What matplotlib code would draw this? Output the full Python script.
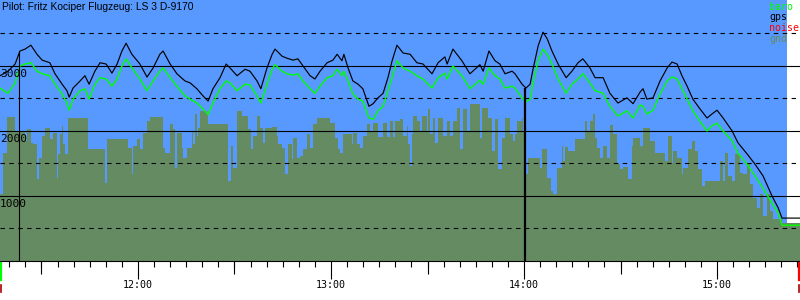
import matplotlib
matplotlib.use("Agg")
import matplotlib.pyplot as plt
from matplotlib.transforms import blended_transform_factory

SKY = "#5799ff"
GND = "#658b63"
BARO = "#00ff00"

# temps en minutes depuis 11:00
t_start = 17.1
t_end = 265.8
t_sky_end = 261.8
t_marks = [23.0, 180.2]

t_line = [17.1, 19.6, 21.8, 23.3, 24.9, 26.7, 28.6, 30.2, 32.6, 34.2, 36.4, 37.9, 38.6, 39.8,
          42.0, 43.5, 44.8, 46.6, 48.2, 50.1, 51.9, 53.5, 55.0, 56.3, 58.1, 60.6, 62.8, 64.7,
          66.8, 67.8, 70.0, 72.1, 74.6, 76.2, 78.3, 80.2, 81.8, 83.3, 85.5, 87.4, 88.6, 90.8,
          93.3, 94.8, 97.0, 98.2, 100.1, 101.7, 102.6, 104.8, 106.3, 108.2, 109.7, 111.3, 113.5,
          115.0, 116.6, 118.8, 120.6, 121.9, 123.4, 124.0, 125.3, 126.8, 128.4, 129.9, 131.8,
          133.1, 134.6, 136.2, 137.7, 139.0, 140.5, 142.4, 144.6, 146.7, 148.6, 151.4, 153.3,
          155.4, 156.1, 157.9, 160.7, 163.2, 166.3, 167.3, 169.1, 171.0, 172.5, 174.1, 176.3,
          177.2, 179.4, 180.6, 181.9, 182.8, 184.4, 185.9, 187.2, 188.7, 190.6, 193.1, 194.9,
          196.8, 198.3, 200.5, 202.1, 204.6, 206.7, 209.2, 212.0, 213.9, 216.1, 217.0, 218.2,
          220.1, 222.3, 224.5, 226.0, 227.6, 229.1, 230.7, 232.5, 234.7, 236.9, 238.4, 240.0,
          241.9, 244.7, 246.5, 249.3, 251.8, 254.3, 257.1, 259.0, 260.2, 265.8]

gps = [2850, 2920, 3030, 3230, 3260, 3320, 3180, 3090, 3050, 2880, 2720, 2620, 2520, 2660,
       2770, 2850, 2720, 2920, 3050, 3030, 2890, 3030, 3230, 3350, 3180, 3030, 2830, 2970,
       3180, 3230, 3030, 2880, 2770, 2740, 2650, 2540, 2460, 2650, 2820, 3030, 2970, 2850,
       2950, 2920, 2770, 2650, 2970, 3180, 3260, 3150, 3120, 3090, 3110, 3000, 2850,
       2800, 2920, 3050, 3090, 3180, 3080, 3180, 2970, 2770, 2720, 2650, 2380,
       2420, 2510, 2580, 2820, 3080, 3320, 3200, 3180, 3050, 3030, 2880, 3050,
       3140, 3030, 3260, 3080, 2880, 3020, 2920, 3230, 3080, 3030, 2880, 2920,
       2880, 2720, 2660, 2720, 2950, 3310, 3520, 3420, 3230, 3030, 2820, 2920,
       3050, 3110, 2970, 2820, 2820, 2580, 2430, 2510, 2420, 2600, 2650, 2490,
       2510, 2770, 2970, 3060, 3030, 2850, 2690, 2490, 2340, 2200, 2260, 2320,
       2200, 2000, 1820, 1650, 1490, 1310, 1000, 820, 660, 660]

baro = [2660, 2580, 2740, 3000, 3030, 3050, 2920, 2880, 2850, 2720, 2570, 2430, 2320, 2490,
        2620, 2650, 2490, 2720, 2820, 2800, 2690, 2800, 3000, 3110, 2970, 2800, 2620, 2770,
        2920, 2970, 2820, 2690, 2540, 2490, 2430, 2340, 2250, 2430, 2650, 2770, 2740, 2620,
        2720, 2710, 2540, 2430, 2720, 2950, 3020, 2920, 2880, 2860, 2880, 2770, 2650,
        2580, 2690, 2820, 2850, 2950, 2850, 2920, 2770, 2570, 2490, 2460, 2200,
        2180, 2310, 2380, 2620, 2820, 3080, 2970, 2920, 2850, 2800, 2660, 2820,
        2890, 2800, 3000, 2850, 2650, 2780, 2720, 2970, 2850, 2800, 2660, 2690,
        2660, 2510, 2450, 2490, 2740, 3080, 3260, 3180, 3030, 2800, 2580, 2720,
        2800, 2880, 2740, 2620, 2580, 2380, 2230, 2310, 2200, 2400, 2380, 2260,
        2320, 2570, 2770, 2830, 2800, 2650, 2490, 2310, 2150, 2000, 2080, 2120,
        2000, 1850, 1660, 1490, 1310, 1120, 890, 740, 550, 550]

gnd_time = [17.1, 18.0, 19.3, 21.8, 24.9, 25.5, 26.7, 27.4, 28.6, 29.2, 30.2, 31.1, 32.6, 33.6,
            34.8, 35.1, 35.8, 36.4, 36.7, 37.3, 38.2, 44.5, 49.7, 50.4, 56.9, 58.1, 58.4, 59.7,
            60.6, 61.6, 62.8, 63.7, 67.8, 68.4, 70.0, 70.9, 71.5, 72.1, 73.7, 74.0, 75.2, 76.8,
            77.1, 77.7, 78.3, 78.7, 79.3, 81.5, 81.8, 88.0, 88.9, 89.5, 90.8, 92.3, 94.2, 95.1,
            95.8, 97.0, 97.9, 98.9, 99.5, 101.7, 103.2, 103.5, 104.8, 105.7, 106.6, 107.9, 108.2,
            109.4, 110.4, 111.3, 112.5, 113.5, 114.4, 115.7, 119.7, 121.2, 122.2, 122.8, 123.7,
            126.5, 126.8, 128.1, 129.0, 130.0, 131.2, 132.1, 133.1, 134.6, 136.2, 137.4, 138.3,
            139.3, 139.9, 141.5, 142.4, 143.6, 144.0, 144.6, 145.2, 145.5, 146.7, 147.7, 148.3,
            149.8, 150.2, 150.8, 151.7, 152.3, 153.3, 154.8, 156.1, 157.0, 157.9, 159.2, 160.1,
            161.0, 162.3, 163.2, 166.3, 166.9, 168.8, 170.1, 171.0, 171.9, 173.2, 174.1, 175.6,
            176.6, 177.2, 177.8, 179.4, 179.7, 180.3, 181.2, 185.0, 185.6, 187.2, 188.4, 189.0,
            190.3, 191.8, 192.1, 192.8, 193.7, 195.9, 199.0, 199.6, 200.5, 201.5, 202.1, 202.7,
            203.6, 204.6, 205.8, 206.7, 207.7, 208.9, 209.8, 210.8, 212.3, 213.6, 213.9, 216.1,
            217.0, 219.2, 220.7, 223.8, 224.8, 226.0, 226.3, 227.6, 229.1, 229.4, 231.0, 232.2,
            233.2, 234.1, 235.3, 236.3, 240.9, 241.9, 242.5, 243.4, 244.7, 245.6, 247.2, 248.1,
            249.3, 250.3, 251.2, 252.4, 253.4, 254.3, 255.5, 256.5, 257.4, 260.2, 265.8]

gnd_alt = [1030, 1660, 2220, 2000, 1850, 2030, 1820, 1800, 1260, 1580, 1920, 2050, 1880, 1970,
           1280, 1650, 1950, 2080, 1800, 1650, 2200, 1720, 1200, 1880, 1740, 1340, 1770, 1880,
           1720, 1970, 2150, 2220, 1740, 1660, 2110, 2030, 1430, 1970, 1740, 1580, 1740, 1980,
           1800, 2260, 1920, 2050, 2310, 2260, 2110, 1230, 1770, 1430, 2310, 2230, 2030, 1720,
           1920, 2230, 2050, 1820, 2050, 2060, 1920, 1800, 1740, 1340, 1800, 1570, 1890,
           1580, 1620, 1720, 1950, 1740, 2110, 2200, 2120, 1890, 1720, 1660, 1950,
           1800, 1970, 1800, 1740, 1920, 2110, 2000, 2120, 1910, 2120, 1910, 2150,
           1910, 2150, 2180, 1920, 2080, 1800, 1460, 1950, 2230, 2150, 2000, 2230,
           2000, 2340, 1950, 2200, 1820, 2200, 1920, 2150, 1920, 2150, 2350, 1720,
           2340, 2000, 2420, 1890, 2350, 2200, 1690, 2180, 1420, 1890, 2200, 1950,
           1850, 1950, 2150, 2200, 2000, 1340, 1580, 1430, 1720, 1280, 1080, 1030,
           1430, 1770, 1540, 1750, 1690, 1880, 2150, 2000, 2150, 2260, 1890, 1740,
           1580, 1770, 1580, 2090, 1950, 1490, 1420, 1450, 1260, 1770, 1890, 1770,
           2050, 1850, 1660, 1540, 1920, 1510, 1690, 1580, 1340, 1430, 1720, 1850,
           1690, 1420, 1150, 1230, 1540, 1230, 1660, 1310, 1230, 1650, 1350, 1340,
           1490, 1180, 970, 820, 1030, 690, 1030, 770, 650, 580, 580]

solid_levels = [1000, 2000, 3000]
dashed_levels = [500, 1500, 2500, 3500]
hour_ticks = [60, 120, 180, 240]
half_ticks = [30, 90, 150, 210]
legend_names = ["baro", "gps", "noise", "gnd"]
legend_colors = [BARO, "black", "#ff0000", GND]

fig = plt.figure(figsize=(8, 3), dpi=100)
ax = fig.add_axes([0, 0.13, 1, 0.87])
ax.set_facecolor("white")
ax.set_xlim(t_start, t_end)
ax.set_ylim(0, 4015)

ax.axvspan(t_start, t_sky_end, color=SKY, zorder=0, lw=0)
ax.fill_between(gnd_time, gnd_alt, 0, step="post", color=GND, lw=0, zorder=1)

for lv in solid_levels:
    ax.axhline(lv, color="black", lw=0.8, zorder=2)
    ax.text(t_start, lv - 40, str(lv), family="DejaVu Sans Mono", fontsize=8,
            va="top", ha="left", zorder=5)
for lv in dashed_levels:
    ax.axhline(lv, color="black", lw=0.8, ls=(0, (4, 4)), zorder=2)

ax.plot(t_line, baro, color=BARO, lw=1.0, zorder=3)
ax.plot(t_line, gps, color="black", lw=0.85, zorder=4)
for i, tm in enumerate(t_marks):
    top = gps[min(range(len(t_line)), key=lambda j: abs(t_line[j] - tm))]
    ax.vlines(tm, 0, top, color="black", lw=0.8 + i * 0.8, zorder=4)

for s in ["left", "right", "top"]:
    ax.spines[s].set_visible(False)
ax.spines["bottom"].set_linewidth(0.8)
ax.set_yticks([])

# longueurs des graduations en points (1 px = 0.72 pt)
ax.set_xticks(hour_ticks)
ax.set_xticklabels([f"{11 + t // 60}:{t % 60:02d}" for t in hour_ticks],
                   family="DejaVu Sans Mono", fontsize=7.2)
ax.set_xticks(list(range(20, 266, 5)), minor=True)
ax.tick_params(axis="x", which="major", length=13, width=0.8, pad=1)
ax.tick_params(axis="x", which="minor", length=4.3, width=0.8)
sec = ax.secondary_xaxis("bottom")
sec.set_xticks(half_ticks)
sec.set_xticklabels([])
sec.tick_params(length=9.4, width=0.8)
sec.spines["bottom"].set_visible(False)

# marques début / fin
tr = blended_transform_factory(ax.transData, fig.transFigure)
ax.plot([t_start + 0.3] * 2, [0.127, 0.067], color=BARO, lw=1.6, transform=tr, clip_on=False)
ax.plot([t_start + 0.3] * 2, [0.05, 0.027], color="#aa0000", lw=1.2, transform=tr, clip_on=False)
ax.plot([t_end - 0.3] * 2, [0.127, 0.067], color="#ff0000", lw=1.6, transform=tr, clip_on=False)
ax.plot([t_end - 0.3] * 2, [0.05, 0.027], color="#aa0000", lw=1.2, transform=tr, clip_on=False)

fig.text(0.003, 0.995, "Pilot: Fritz Kociper Flugzeug: LS 3 D-9170", family="Liberation Sans",
         fontsize=7.4, va="top", ha="left")
for i, (name, col) in enumerate(zip(legend_names, legend_colors)):
    fig.text(769 / 800, 1 - (2 + 10.5 * i) / 300, name, color=col, family="DejaVu Sans Mono",
             fontsize=7.2, va="top", ha="left")

fig.savefig("out.png", dpi=100)
